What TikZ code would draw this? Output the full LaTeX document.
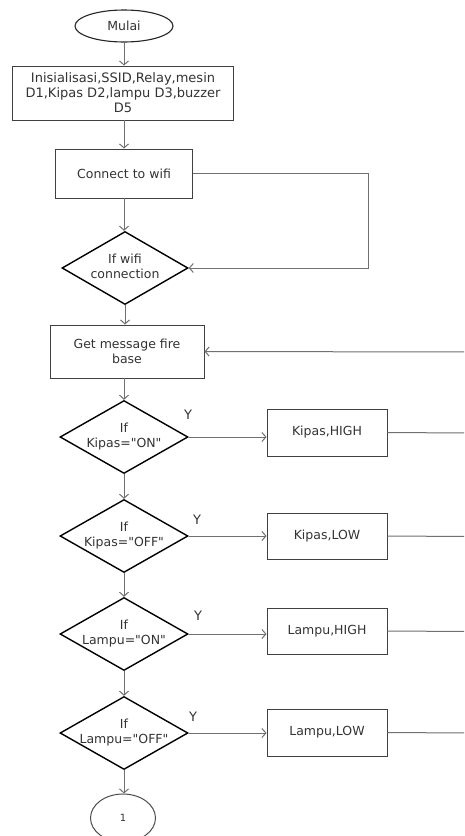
\documentclass[tikz,border=0pt]{standalone}
\usepackage{fontspec}
\setmainfont{DejaVu Sans}[Ligatures=TeXOff]
\usetikzlibrary{shapes.geometric,arrows.meta}
\definecolor{linegray}{HTML}{707070}
\definecolor{boxgray}{HTML}{404040}
\definecolor{txt}{HTML}{333333}
\newcommand{\mydtext}[1]{\makebox[0pt]{\begin{tabular}{@{}c@{}}#1\end{tabular}}}
\begin{document}
\begin{tikzpicture}[x=1pt,y=-1pt,
 every node/.style={text=txt, font=\fontsize{12.5}{15}\selectfont},
 proc/.style={draw=boxgray, line width=0.9pt, rectangle, align=center, inner sep=0pt},
 term/.style={draw=black!85, line width=1.1pt, ellipse, inner sep=0pt},
 dia/.style={draw=black, line width=1.4pt, diamond, inner sep=0pt, aspect=1.75, minimum width=128pt, minimum height=73pt},
 ln/.style={draw=linegray, line width=1pt},
 arr/.style={ln, -{Straight Barb[length=4pt,width=9pt]}},
 ylab/.style={font=\fontsize{13}{15}\selectfont}
]
\useasboundingbox (0,0) rectangle (464,836);
\clip (0,0) rectangle (464,836);
\fill[white] (0,0) rectangle (464,836);

\node[term, minimum width=98pt, minimum height=32pt] (start) at (124,26) {Mulai};
\node[proc, minimum width=221pt, minimum height=54pt, font=\fontsize{13}{15}\selectfont] (init) at (123,93) {Inisialisasi,SSID,Relay,mesin\\D1,Kipas D2,lampu D3,buzzer\\D5};
\node[proc, minimum width=137pt, minimum height=49pt] (conn) at (124,173.5) {Connect to wifi};
\node[dia, minimum width=126pt] (dwifi) at (125,268) {\mydtext{If wifi\\connection}};
\node[proc, minimum width=154pt, minimum height=53pt] (get) at (127,351.5) {Get message fire\\base};

\node[dia] (d1) at (124,437) {\mydtext{If\\Kipas="ON"}};
\node[dia] (d2) at (124,536) {\mydtext{If\\Kipas="OFF"}};
\node[dia] (d3) at (124,634) {\mydtext{If\\Lampu="ON"}};
\node[dia] (d4) at (124,733) {\mydtext{If\\Lampu="OFF"}};

\node[proc, minimum width=120pt, minimum height=47pt] (b1) at (327,432.5) {Kipas,HIGH};
\node[proc, minimum width=120pt, minimum height=46pt] (b2) at (327,536) {Kipas,LOW};
\node[proc, minimum width=120pt, minimum height=46pt] (b3) at (327,631) {Lampu,HIGH};
\node[proc, minimum width=120pt, minimum height=47pt] (b4) at (327,732.5) {Lampu,LOW};

\node[term, draw=black!70, line width=1pt, minimum width=65pt, minimum height=48pt, font=\fontsize{10}{12}\selectfont] (end) at (123,818) {1};

\node[ylab] (y1) at (188,415) {Y};
\node[ylab] (y2) at (197,520) {Y};
\node[ylab] (y3) at (198,616) {Y};
\node[ylab] (y4) at (193,717) {Y};

% main chain
\draw[arr] (start.south) -- (start.south |- init.north);
\draw[arr] (init.south -| start.south) -- (start.south |- conn.north);
\draw[arr] (conn.south) -- (conn.south |- dwifi.north);
\draw[arr] (dwifi.south) -- (dwifi.south |- get.north);
\draw[arr] (get.south -| d1.north) -- (d1.north);
\draw[arr] (d1.south) -- (d2.north);
\draw[arr] (d2.south) -- (d3.north);
\draw[arr] (d3.south) -- (d4.north);
\draw[arr] (d4.south) -- (d4.south |- end.north);

% wifi loop
\coordinate (lp) at (368,173.5);
\draw[arr] (conn.east) -- (lp) |- (dwifi.east);

% firebase feedback
\coordinate (fb) at (468,352);
\draw[arr] (fb) -- (get.east);

% yes branches
\draw[arr] (d1.east) -- (b1.west |- d1.east);
\draw[arr] (d2.east) -- (b2.west |- d2.east);
\draw[arr] (d3.east) -- (b3.west |- d3.east);
\draw[arr] (d4.east) -- (b4.west |- d4.east);

\coordinate (o1) at (468,433);
\coordinate (o2) at (468,536.5);
\coordinate (o3) at (468,631.5);
\coordinate (o4) at (468,733);
\draw[ln] (b1.east) -- (o1);
\draw[ln] (b2.east) -- (o2);
\draw[ln] (b3.east) -- (o3);
\draw[ln] (b4.east) -- (o4);
\end{tikzpicture}
\end{document}
